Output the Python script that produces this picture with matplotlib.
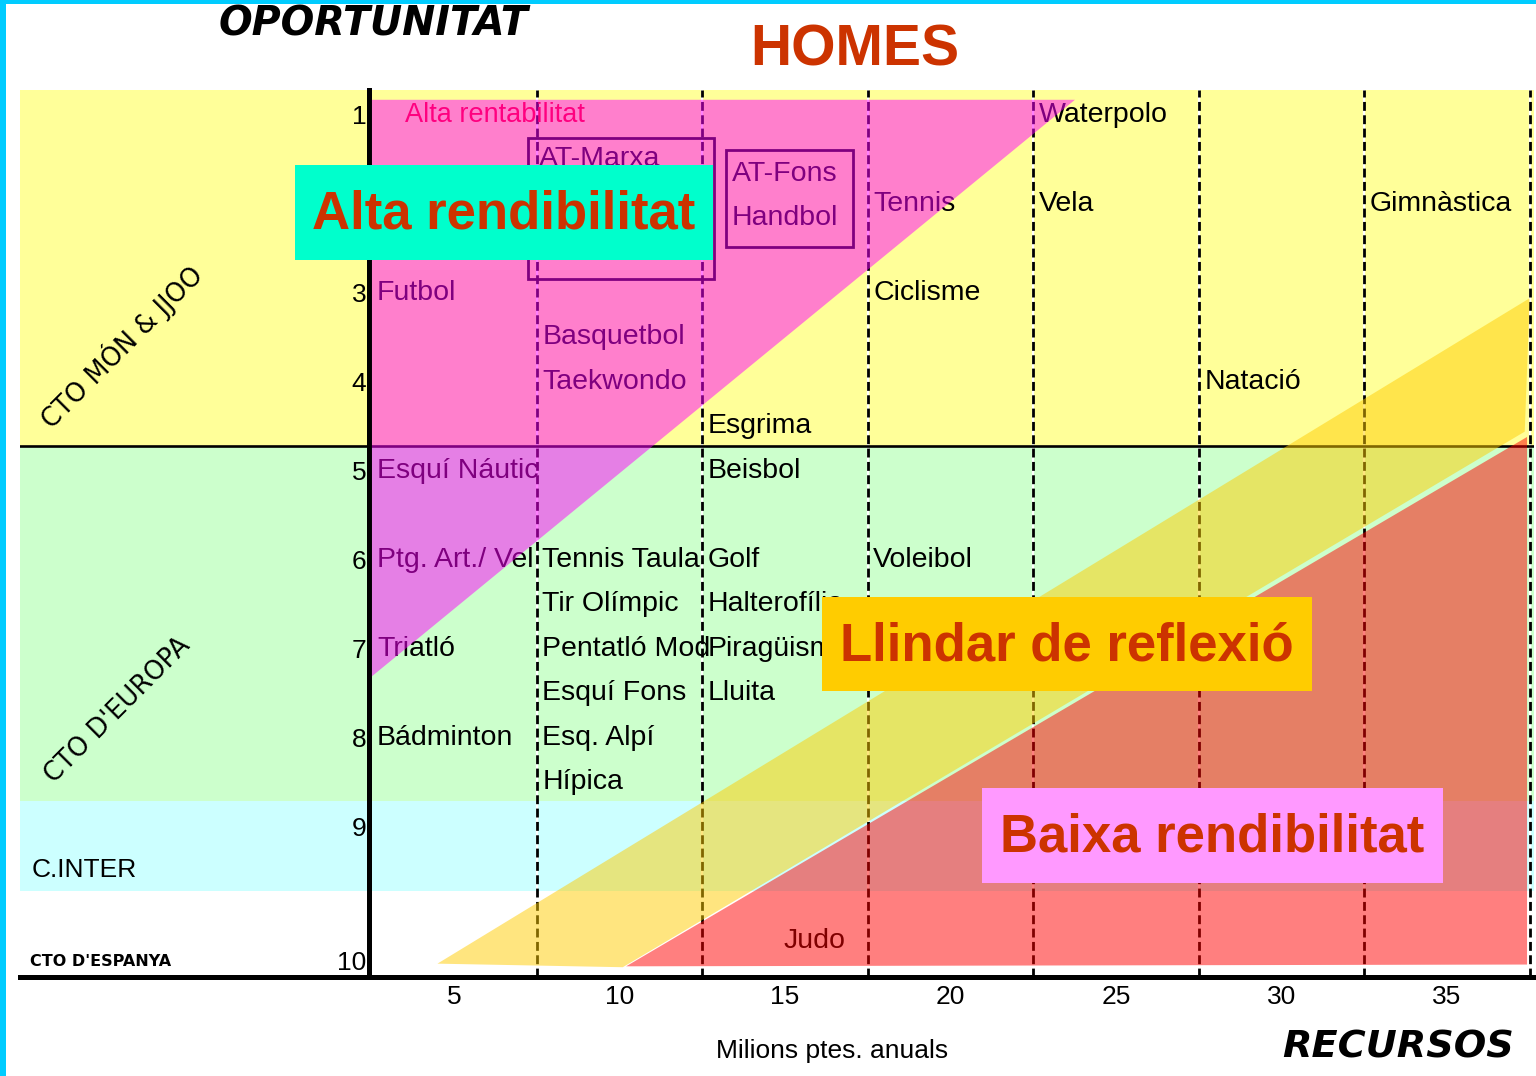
import matplotlib
matplotlib.use('Agg')
import matplotlib.pyplot as plt
from matplotlib.patches import Polygon, Rectangle
from matplotlib import font_manager as fm

# Eixos: rànquing (Y) i recursos en milions de ptes. (X)
rank_labels = ['1', '2', '3', '4', '5', '6', '7', '8', '9', '10']
rank_pos = [1, 2, 3, 4, 5, 6, 7, 8, 9, 10.5]
money_ticks = [5, 10, 15, 20, 25, 30, 35]
bracket_edges = [7.5, 12.5, 17.5, 22.5, 27.5, 32.5, 37.5]

# Nivells de competició (franges de fons)
level_names = ["CTO MÓN & JJOO", "CTO D'EUROPA", "C.INTER", "CTO D'ESPANYA"]
level_top = [0.72, 4.72, 8.71, 9.72]
level_bottom = [4.72, 8.71, 9.72, 10.69]
level_colors = ['#FFFF99', '#CCFFCC', '#CCFFFF', '#FFFFFF']

# Esports: nom, recursos (inici de columna), posició
sport_names = ['Futbol', 'Esquí Náutic', 'Ptg. Art./ Vel', 'Triatló', 'Bádminton',
               'AT-Marxa', 'Basquetbol', 'Taekwondo', 'Tennis Taula', 'Tir Olímpic',
               'Pentatló Mod', 'Esquí Fons', 'Esq. Alpí', 'Hípica',
               'AT-Fons', 'Handbol', 'Esgrima', 'Beisbol', 'Golf', 'Halterofília',
               'Piragüisme', 'Lluita', 'Judo',
               'Tennis', 'Ciclisme', 'Voleibol', 'Waterpolo', 'Vela', 'Natació', 'Gimnàstica']
sport_x = [2.5, 2.5, 2.5, 2.5, 2.5,
           7.4, 7.5, 7.5, 7.5, 7.5,
           7.5, 7.5, 7.5, 7.5,
           13.22, 13.22, 12.5, 12.5, 12.5, 12.5,
           12.5, 12.5, 14.8,
           17.5, 17.5, 17.5, 22.5, 22.5, 27.5, 32.5]
sport_rank = [3, 5, 6, 7, 8,
              1.5, 3.5, 4, 6, 6.5,
              7, 7.5, 8, 8.5,
              1.66, 2.16, 4.5, 5, 6, 6.5,
              7, 7.5, 10.28,
              2, 3, 6, 1, 2, 4, 2]

# Grups d'esports enquadrats (x0, x1, y0, y1)
group_x0 = [7.24, 13.22]
group_x1 = [12.85, 17.05]
group_y0 = [1.26, 1.39]
group_y1 = [2.85, 2.49]

# Zones de rendibilitat (vèrtexs recursos / posició)
high_x = [2.52, 23.76, 2.52]
high_y = [0.83, 0.83, 7.31]
thresh_x = [4.5, 37.5, 37.35, 10.1]
thresh_y = [10.54, 3.06, 4.56, 10.58]
low_x = [10.2, 37.42, 37.42]
low_y = [10.57, 4.62, 10.55]

callout_text = ['Alta rendibilitat', 'Llindar de reflexió', 'Baixa rendibilitat']
callout_face = ['#00FFCC', '#FFCC00', '#FF99FF']

# ── Fonts ──────────────────────────────────────────────────────────────
names = {f.name for f in fm.fontManager.ttflist}
if 'Liberation Sans Narrow' in names:
    NARROW, FS_SPORT, FS_BIG, FS_TICK = 'Liberation Sans Narrow', 24, 46, 22
else:
    NARROW, FS_SPORT, FS_BIG, FS_TICK = 'Liberation Sans', 20.5, 38, 19
REG = 'Liberation Sans'

W, H = 1536, 1076
fig = plt.figure(figsize=(W / 100, H / 100), dpi=100)
fig.patch.set_facecolor('white')

def fx(px):
    return px / W

def fy(py):
    return 1 - py / H

ylim = (10.69, 0.72)
ax_left = fig.add_axes([fx(20), fy(977), fx(369 - 20), (977 - 90) / H])
ax = fig.add_axes([fx(369), fy(977), fx(1534 - 369), (977 - 90) / H])

for a in (ax_left, ax):
    a.set_ylim(*ylim)
    a.set_facecolor('none')
    for s in ('top', 'right', 'left'):
        a.spines[s].set_visible(False)
    a.spines['bottom'].set_linewidth(3.6)
    for top, bot, col in zip(level_top, level_bottom, level_colors):
        a.axhspan(bot, top, color=col, zorder=0, lw=0)
    a.axhline(level_bottom[0], color='black', lw=1.9, zorder=2)

ax_left.set_xlim(0, 1)
ax_left.set_xticks([])
ax_left.set_yticks([])

ax.set_xlim(2.432, 37.63)
ax.spines['left'].set_visible(True)
ax.spines['left'].set_linewidth(3.6)
ax.set_xticks(money_ticks)
ax.set_xticklabels([str(v) for v in money_ticks], family=NARROW, fontsize=FS_TICK)
ax.set_yticks(rank_pos)
ax.set_yticklabels(rank_labels, family=NARROW, fontsize=FS_TICK)
ax.get_yticklabels()[1].set_visible(False)   # el "2" queda tapat pel rètol
ax.tick_params(length=0)
ax.tick_params(axis='x', pad=6)
ax.tick_params(axis='y', pad=2)

# Columnes de recursos
ax.vlines(bracket_edges, *ylim, color='white', lw=1.6, zorder=1.8)
ax.vlines(bracket_edges, *ylim, color='black', lw=2.0, linestyles=(0, (3.2, 1.6)), zorder=1.9)

# Esports
for name, x, r in zip(sport_names, sport_x, sport_rank):
    ax.text(x + 0.17, r, name, family=NARROW, fontsize=FS_SPORT, color='black',
            ha='left', va='center', zorder=3, clip_on=False)
ax.text(3.52, 1, 'Alta rentabilitat', family=REG, fontsize=19.5, color='#FF0000',
        ha='left', va='center', zorder=3)
for x0, x1, y0, y1 in zip(group_x0, group_x1, group_y0, group_y1):
    ax.add_patch(Rectangle((x0, y0), x1 - x0, y1 - y0, fill=False,
                           edgecolor='black', lw=2, zorder=3))

# Zones superposades
ax.add_patch(Polygon(list(zip(high_x, high_y)), closed=True, facecolor='#FF00FF',
                     alpha=0.5, lw=0, zorder=4))
ax.add_patch(Polygon(list(zip(thresh_x, thresh_y)), closed=True, facecolor='#FFCC00',
                     alpha=0.5, lw=0, zorder=4))
ax.add_patch(Polygon(list(zip(low_x, low_y)), closed=True, facecolor='#FF0000',
                     alpha=0.5, lw=0, zorder=4))

# Rètols grans
box_x0 = [0.2, 16.12, 20.95]
box_x1 = [12.82, 30.92, 34.88]
box_y0 = [1.56, 6.42, 8.56]
box_y1 = [2.63, 7.48, 9.63]
for txt, fc, x0, x1, y0, y1 in zip(callout_text, callout_face, box_x0, box_x1, box_y0, box_y1):
    ax.add_patch(Rectangle((x0, y0), x1 - x0, y1 - y0, facecolor=fc, lw=0,
                           zorder=6, clip_on=False))
    ax.text((x0 + x1) / 2, (y0 + y1) / 2 + 0.03, txt, family=NARROW, fontsize=FS_BIG,
            fontweight='bold', color='#CC3300', ha='center', va='center', zorder=7,
            clip_on=False)

# Nivells al marge esquerre
ax_left.text(0.292, 3.6, level_names[0], family='DejaVu Sans', fontsize=18.5,
             rotation=45, ha='center', va='center', rotation_mode='anchor')
ax_left.text(0.281, 7.69, level_names[1], family='DejaVu Sans', fontsize=18.5,
             rotation=45, ha='center', va='center', rotation_mode='anchor')
ax_left.text(0.034, 9.49, level_names[2], family=REG, fontsize=19,
             ha='left', va='center')
ax_left.text(0.029, 10.52, level_names[3], family='DejaVu Sans', fontsize=11.5,
             fontweight='bold', ha='left', va='center')

# Títols
fig.text(fx(373), fy(25), 'OPORTUNITAT', family='DejaVu Sans', fontsize=28.5,
         fontweight='bold', fontstyle='italic', ha='center', va='center')
fig.text(fx(855), fy(50), 'HOMES', family=REG, fontsize=41, fontweight='bold',
         color='#CC3300', ha='center', va='center')
fig.text(fx(1398), fy(1047), 'RECURSOS', family='DejaVu Sans', fontsize=27.5,
         fontweight='bold', fontstyle='italic', ha='center', va='center')
fig.text(fx(832), fy(1051), 'Milions ptes. anuals', family=NARROW, fontsize=FS_TICK,
         ha='center', va='center')

# Marc cian
fig.patches.append(Rectangle((0, 0), fx(6), 1, transform=fig.transFigure,
                             facecolor='#00CCFF', lw=0, zorder=10))
fig.patches.append(Rectangle((0, fy(4)), 1, 4 / H, transform=fig.transFigure,
                             facecolor='#00CCFF', lw=0, zorder=10))

fig.savefig('out.png', dpi=100)
